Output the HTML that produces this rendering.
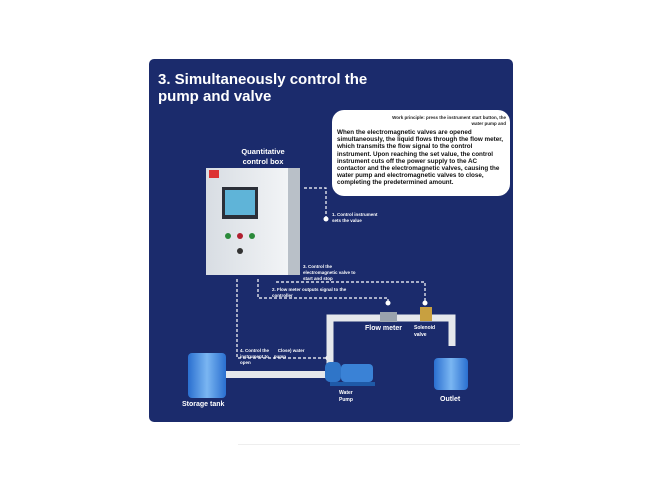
<!DOCTYPE html>
<html><head><style>
body{margin:0;width:660px;height:495px;background:#fff;position:relative;overflow:hidden;font-family:"Liberation Sans",sans-serif}
.p{position:absolute;left:149px;top:59px;width:364px;height:363px;background:#1b2b6c;border-radius:5px}
.t{position:absolute;color:#fff;font-weight:bold}
</style></head><body>
<div class="p"></div>
<div class="t" style="left:158px;top:71px;font-size:15px;line-height:17px">3. Simultaneously control the<br>pump and valve</div>
<div style="position:absolute;left:332px;top:110px;width:178px;height:86px;background:#fff;border-radius:12px"></div>
<div style="position:absolute;left:380px;top:115px;width:126px;text-align:right;font-size:4.5px;font-weight:bold;color:#222;line-height:6px">Work principle: press the instrument start button, the water pump and</div>
<div style="position:absolute;left:337px;top:129px;width:168px;font-size:6.3px;font-weight:bold;color:#111;line-height:7.2px">When the electromagnetic valves are opened simultaneously, the liquid flows through the flow meter, which transmits the flow signal to the control instrument. Upon reaching the set value, the control instrument cuts off the power supply to the AC contactor and the electromagnetic valves, causing the water pump and electromagnetic valves to close, completing the predetermined amount.</div>
<div class="t" style="left:232px;top:147px;font-size:7.5px;line-height:10px;text-align:center;width:62px">Quantitative control box</div>
<svg width="660" height="495" style="position:absolute;left:0;top:0">
<defs>
<linearGradient id="cab" x1="0" x2="1"><stop offset="0" stop-color="#d8dde3"/><stop offset="1" stop-color="#f2f4f6"/></linearGradient>
<linearGradient id="tk" x1="0" x2="1"><stop offset="0" stop-color="#2a6fd0"/><stop offset=".5" stop-color="#7ab6f2"/><stop offset="1" stop-color="#2a6fd0"/></linearGradient>
</defs>
<rect x="206" y="168" width="82" height="107" fill="url(#cab)"/>
<rect x="288" y="168" width="12" height="107" fill="#b9c0c8"/>
<rect x="209" y="170" width="10" height="8" fill="#d33"/>
<rect x="222" y="187" width="36" height="32" fill="#2b2f38"/>
<rect x="225" y="190" width="30" height="25" fill="#5fb4d8"/>
<circle cx="228" cy="236" r="3" fill="#2a8a3a"/><circle cx="240" cy="236" r="3" fill="#b02030"/><circle cx="252" cy="236" r="3" fill="#2a8a3a"/><circle cx="240" cy="251" r="3" fill="#333"/>
<g stroke="#fff" stroke-width="1.2" stroke-dasharray="3,2" fill="none">
<path d="M304 188H326V218"/>
<path d="M258 279V298H388V303"/>
<path d="M276 282H425V303"/>
<path d="M237 279V358H328"/>
</g>
<circle cx="326" cy="219" r="2.5" fill="#fff"/>
<circle cx="388" cy="303" r="2.5" fill="#fff"/><circle cx="425" cy="303" r="2.5" fill="#fff"/><circle cx="328" cy="358" r="2.5" fill="#fff"/>
<path d="M330 366V318H452V346" stroke="#e6e8ec" stroke-width="7" fill="none"/>
<rect x="226" y="371" width="100" height="7" fill="#e6e8ec"/>
<rect x="380" y="312" width="17" height="10" fill="#9aa3ad"/>
<rect x="420" y="307" width="12" height="14" fill="#c8a040"/>
<rect x="188" y="353" width="38" height="45" rx="4" fill="url(#tk)"/>
<rect x="434" y="358" width="34" height="32" rx="4" fill="url(#tk)"/>
<rect x="325" y="362" width="16" height="20" rx="5" fill="#2f75c8"/>
<rect x="341" y="364" width="32" height="18" rx="4" fill="#3a82d6"/>
<rect x="330" y="382" width="45" height="4" fill="#1f5aa8"/>
</svg>
<div class="t" style="left:332px;top:212px;font-size:4.5px;line-height:6px">1. Control instrument<br>sets the value</div>
<div class="t" style="left:303px;top:264px;font-size:4.5px;line-height:6px">3. Control the<br>electromagnetic valve to<br>start and stop</div>
<div class="t" style="left:272px;top:287px;font-size:4.5px;line-height:6px">2. Flow meter outputs signal to the<br>controller</div>
<div class="t" style="left:240px;top:348px;font-size:4.5px;line-height:6px">4. Control the &nbsp;&nbsp;&nbsp;&nbsp;&nbsp;&nbsp;Close) water<br>instrument to &nbsp;&nbsp;&nbsp;pump<br>open</div>
<div class="t" style="left:365px;top:325px;font-size:7px">Flow meter</div>
<div class="t" style="left:414px;top:325px;font-size:5px;line-height:7px">Solenoid<br>valve</div>
<div class="t" style="left:339px;top:390px;font-size:5px;line-height:7px">Water<br>Pump</div>
<div class="t" style="left:182px;top:401px;font-size:7px">Storage tank</div>
<div class="t" style="left:440px;top:396px;font-size:7px">Outlet</div>
<div style="position:absolute;left:238px;top:444px;width:282px;height:1px;background:#eee"></div>
</body></html>
